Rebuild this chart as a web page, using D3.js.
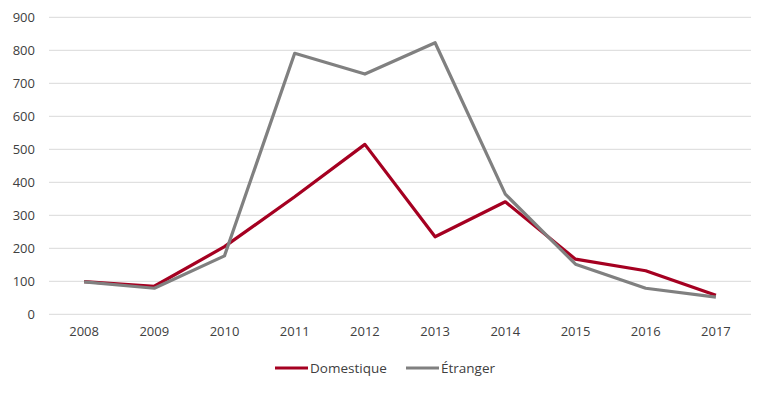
<!DOCTYPE html>
<html><head><meta charset="utf-8">
<script src="https://cdn.jsdelivr.net/npm/d3@7"></script>
<style>body{margin:0;background:#fff}svg{display:block}text{font-family:"Open Sans","Liberation Sans",sans-serif;fill:#404040}</style>
</head><body><svg id="c" width="768" height="393"></svg>
<script>
const years = ["2008","2009","2010","2011","2012","2013","2014","2015","2016","2017"];
const domestique = [99, 85, 205, 356, 515, 235, 341, 167, 132, 58];
const etranger = [98, 79, 177, 791, 728, 823, 364, 152, 79, 52];
const yTicks = [0,100,200,300,400,500,600,700,800,900];
const seriesNames = ["Domestique","Étranger"];
const colors = ["#A50021","#808080"];

const svg = d3.select("#c");
const L = 49, R = 751, T = 17.3, B = 314.3;
const x = d3.scaleBand().domain(years).range([L, R]);
const y = d3.scaleLinear().domain([0, 900]).range([B, T]);

svg.append("g").selectAll("line").data(yTicks).join("line")
  .attr("x1", L).attr("x2", R).attr("y1", d=>y(d)).attr("y2", d=>y(d))
  .attr("stroke", "#d9d9d9").attr("stroke-width", 1);

const yAxis = svg.append("g").attr("transform", `translate(${L-14},0)`)
  .call(d3.axisLeft(y).tickValues(yTicks).tickSize(0).tickPadding(0));
yAxis.select(".domain").remove();
yAxis.selectAll("text").style("font-size","13px").attr("fill","#404040").attr("font-family",null);

const xAxis = svg.append("g").attr("transform", `translate(0,${B+8})`)
  .call(d3.axisBottom(x).tickSize(0).tickPadding(4));
xAxis.select(".domain").remove();
xAxis.selectAll("text").style("font-size","13px").attr("fill","#404040").attr("font-family",null);

const line = d3.line().x((d,i)=>x(years[i]) + x.bandwidth()/2).y(d=>y(d));
[domestique, etranger].forEach((s,i)=>{
  svg.append("path").attr("d", line(s)).attr("fill","none")
    .attr("stroke", colors[i]).attr("stroke-width", 3.2).attr("stroke-linejoin","round");
});

const legend = [{x:275},{x:406}];
seriesNames.forEach((n,i)=>{
  const g = svg.append("g").attr("transform", `translate(${legend[i].x},368)`);
  g.append("line").attr("x1",0).attr("x2",33).attr("y1",0).attr("y2",0)
    .attr("stroke", colors[i]).attr("stroke-width",3.2);
  g.append("text").attr("x",35).attr("y",5).style("font-size","13.5px").text(n);
});
</script></body></html>
